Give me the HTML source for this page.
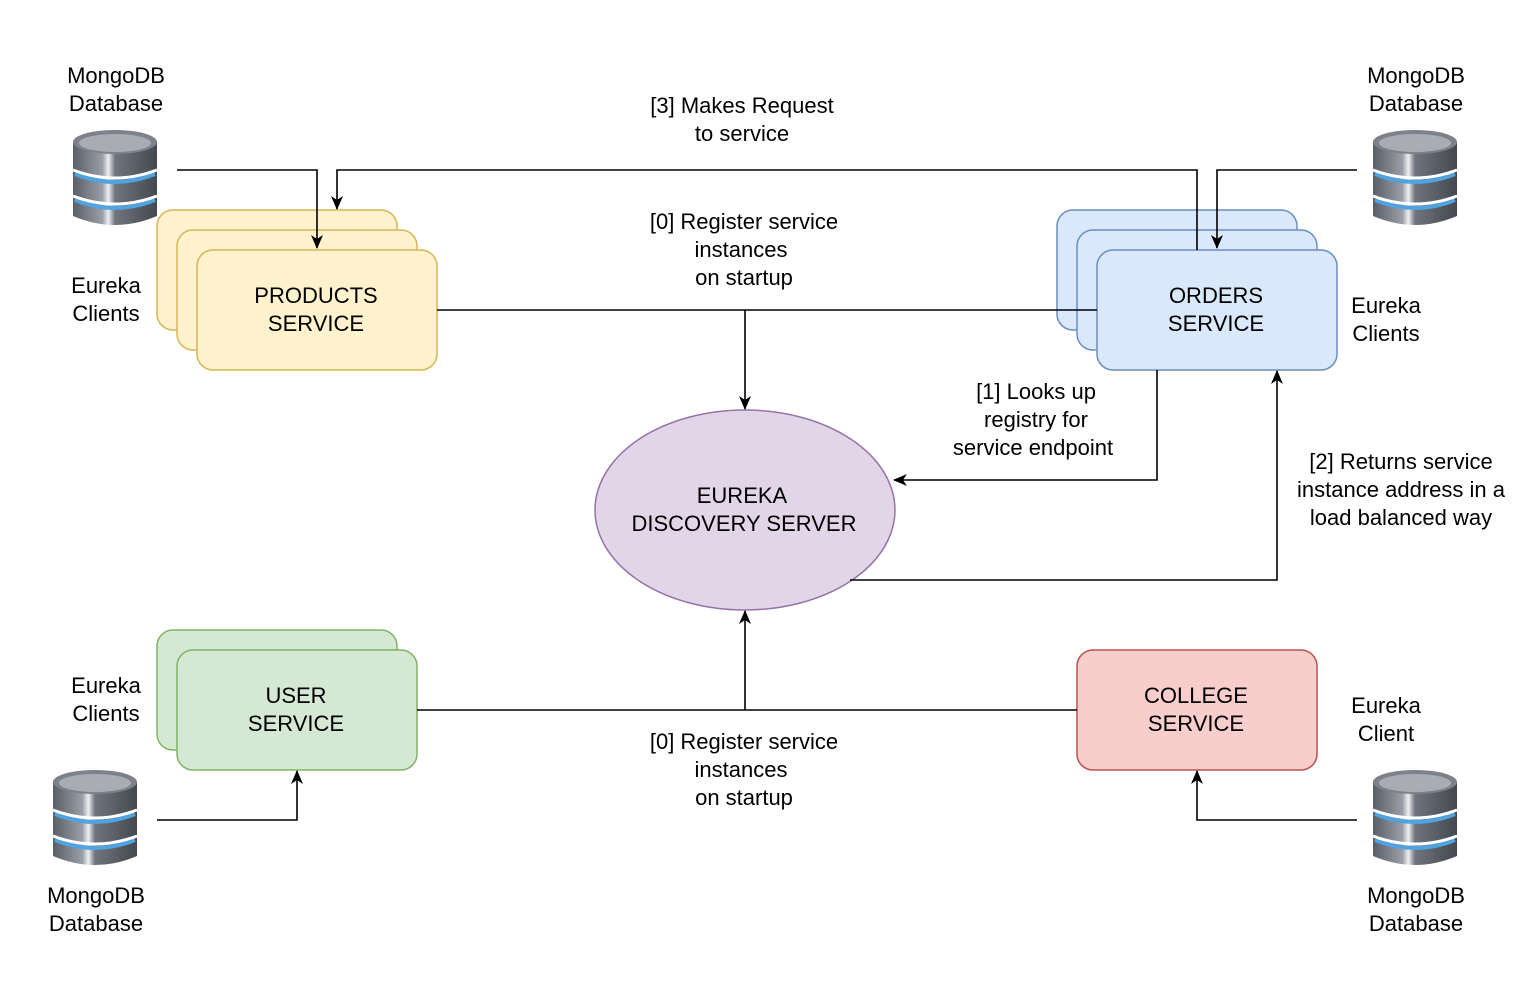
<!DOCTYPE html>
<html><head><meta charset="utf-8"><style>
body{margin:0;background:#fff;}
svg{display:block;font-family:"Liberation Sans",Arial,sans-serif;font-size:22px;}
</style></head><body>
<svg width="1538" height="986" viewBox="0 0 1538 986" xmlns="http://www.w3.org/2000/svg">
<defs>
<marker id="a" markerWidth="14" markerHeight="14" refX="13" refY="7" orient="auto" markerUnits="userSpaceOnUse">
<path d="M0,1 L14,7 L0,13 L4,7 Z" fill="#000"/></marker>
<linearGradient id="g" x1="0" x2="1"><stop offset="0" stop-color="#5a5e66"/><stop offset="0.35" stop-color="#9a9ea6"/><stop offset="0.42" stop-color="#eef0f2"/><stop offset="0.5" stop-color="#70747c"/><stop offset="1" stop-color="#44484f"/></linearGradient>
<g id="db">
<path d="M0,12 L0,86 Q42,104 84,86 L84,12 Z" fill="url(#g)"/>
<path d="M2,44 Q42,60 82,44" stroke="#4fa3e0" stroke-width="4" fill="none"/>
<path d="M2,70 Q42,86 82,70" stroke="#4fa3e0" stroke-width="4" fill="none"/>
<path d="M0,40 Q42,56 84,40" stroke="#fff" stroke-width="3" fill="none"/>
<path d="M0,66 Q42,82 84,66" stroke="#fff" stroke-width="3" fill="none"/>
<ellipse cx="42" cy="12" rx="42" ry="12" fill="#7d8189"/>
<ellipse cx="42" cy="13" rx="36" ry="9" fill="#a9adb3"/>
</g>
</defs>
<use href="#db" x="73" y="130"/>
<use href="#db" x="1373" y="130"/>
<use href="#db" x="53" y="770"/>
<use href="#db" x="1373" y="770"/>

<g stroke="#d6b656" fill="#fff2cc" stroke-width="1.5">
<rect x="157" y="210" width="240" height="120" rx="16"/>
<rect x="177" y="230" width="240" height="120" rx="16"/>
<rect x="197" y="250" width="240" height="120" rx="16"/>
</g>
<g stroke="#6c8ebf" fill="#dae8fc" stroke-width="1.5">
<rect x="1057" y="210" width="240" height="120" rx="16"/>
<rect x="1077" y="230" width="240" height="120" rx="16"/>
<rect x="1097" y="250" width="240" height="120" rx="16"/>
</g>
<g stroke="#82b366" fill="#d5e8d4" stroke-width="1.5">
<rect x="157" y="630" width="240" height="120" rx="16"/>
<rect x="177" y="650" width="240" height="120" rx="16"/>
</g>
<rect x="1077" y="650" width="240" height="120" rx="16" stroke="#b85450" fill="#f8cecc" stroke-width="1.5"/>
<ellipse cx="745" cy="510" rx="150" ry="100" fill="#e1d5e7" stroke="#9673a6" stroke-width="1.5"/>

<g stroke="#000" stroke-width="1.6" fill="none">
<path d="M177,170 H317 V248" marker-end="url(#a)"/>
<path d="M1197,250 V170 H337 V209" marker-end="url(#a)"/>
<path d="M1357,170 H1217 V248" marker-end="url(#a)"/>
<path d="M437,310 H1097"/>
<path d="M745,310 V409" marker-end="url(#a)"/>
<path d="M1157,370 V480 H894" marker-end="url(#a)"/>
<path d="M850,580 H1277 V371" marker-end="url(#a)"/>
<path d="M417,710 H1077"/>
<path d="M745,710 V611" marker-end="url(#a)"/>
<path d="M157,820 H297 V771" marker-end="url(#a)"/>
<path d="M1357,820 H1197 V771" marker-end="url(#a)"/>
</g>

<g text-anchor="middle" fill="#000">
<text x="116" y="83">MongoDB</text><text x="116" y="111">Database</text>
<text x="1416" y="83">MongoDB</text><text x="1416" y="111">Database</text>
<text x="96" y="903">MongoDB</text><text x="96" y="931">Database</text>
<text x="1416" y="903">MongoDB</text><text x="1416" y="931">Database</text>
<text x="106" y="293">Eureka</text><text x="106" y="321">Clients</text>
<text x="1386" y="313">Eureka</text><text x="1386" y="341">Clients</text>
<text x="106" y="693">Eureka</text><text x="106" y="721">Clients</text>
<text x="1386" y="713">Eureka</text><text x="1386" y="741">Client</text>
<text x="316" y="303">PRODUCTS</text><text x="316" y="331">SERVICE</text>
<text x="1216" y="303">ORDERS</text><text x="1216" y="331">SERVICE</text>
<text x="296" y="703">USER</text><text x="296" y="731">SERVICE</text>
<text x="1196" y="703">COLLEGE</text><text x="1196" y="731">SERVICE</text>
<text x="742" y="503">EUREKA</text><text x="744" y="531">DISCOVERY SERVER</text>
<text x="742" y="113">[3] Makes Request</text><text x="742" y="141">to service</text>
<text x="744" y="229">[0] Register service</text><text x="741" y="257">instances</text><text x="744" y="285">on startup</text>
<text x="744" y="749">[0] Register service</text><text x="741" y="777">instances</text><text x="744" y="805">on startup</text>
<text x="1036" y="399">[1] Looks up</text><text x="1036" y="427">registry for</text><text x="1033" y="455">service endpoint</text>
<text x="1401" y="469">[2] Returns service</text><text x="1401" y="497">instance address in a</text><text x="1401" y="525">load balanced way</text>
</g>
</svg>
</body></html>
